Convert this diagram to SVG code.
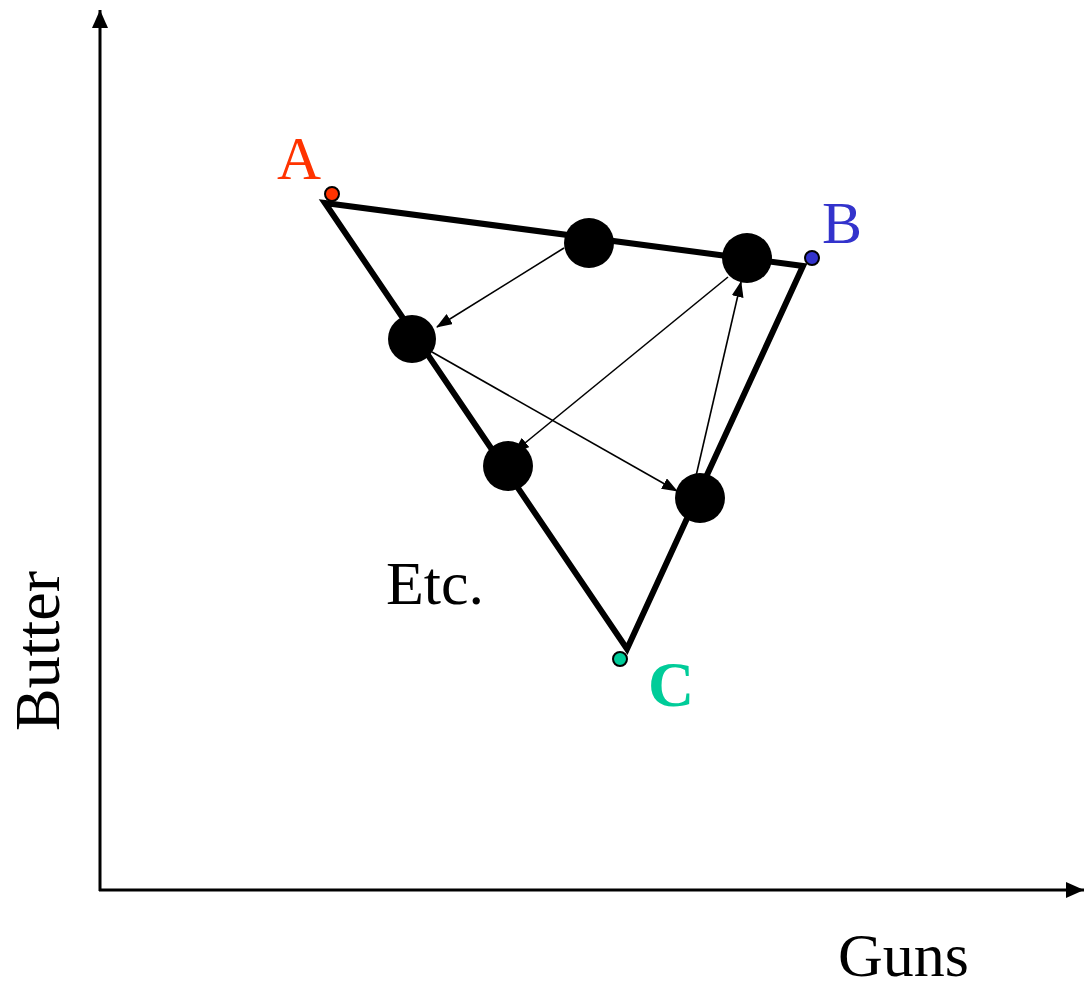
<svg xmlns="http://www.w3.org/2000/svg" width="1084" height="985" viewBox="0 0 1084 985">
<style>
.lbl{font-family:"Liberation Serif","Times New Roman",serif;}
.edge{fill:none;stroke:#000;stroke-width:6;stroke-linejoin:miter;}
.thin{fill:none;stroke:#000;stroke-width:1.6;marker-end:url(#ah);}
.dot{fill:#000;}
</style>
<defs>
<marker id="ah" markerUnits="userSpaceOnUse" markerWidth="16" markerHeight="12" refX="15" refY="6" orient="auto">
<path d="M0,0 L16,6 L0,12 z" fill="#000"/>
</marker>
<marker id="axh" markerUnits="userSpaceOnUse" markerWidth="18" markerHeight="16" refX="18" refY="8" orient="auto">
<path d="M0,0 L18,8 L0,16 z" fill="#000"/>
</marker>
</defs>
<rect width="1084" height="985" fill="#fff"/>
<g id="axes">
<line x1="100" y1="891" x2="100" y2="10" stroke="#000" stroke-width="3" marker-end="url(#axh)"/>
<line x1="99" y1="890" x2="1084" y2="890" stroke="#000" stroke-width="3" marker-end="url(#axh)"/>
</g>
<g id="triangle">
<path class="edge" d="M325,203 L803,266 L627,649 Z"/>
</g>
<g id="connectors">
<line class="thin" x1="564" y1="248" x2="437" y2="327"/>
<line class="thin" x1="432" y1="352" x2="677" y2="491"/>
<line class="thin" x1="728" y1="277" x2="514" y2="452"/>
<line class="thin" x1="696" y1="476" x2="741" y2="282"/>
</g>
<g id="n1"><circle class="dot" cx="589" cy="243" r="25"/></g>
<g id="n2"><circle class="dot" cx="747" cy="258" r="25"/></g>
<g id="n3"><circle class="dot" cx="412" cy="339" r="24"/></g>
<g id="n4"><circle class="dot" cx="508" cy="466" r="25"/></g>
<g id="n5"><circle class="dot" cx="700" cy="498" r="25"/></g>
<g id="A">
<circle cx="332" cy="194" r="7" fill="#FF3300" stroke="#000" stroke-width="2"/>
<text class="lbl" x="277" y="179" font-size="61" fill="#FF3300">A</text>
</g>
<g id="B">
<circle cx="812" cy="258" r="7" fill="#3333CC" stroke="#000" stroke-width="2"/>
<text class="lbl" x="822" y="243" font-size="60" fill="#3333CC">B</text>
</g>
<g id="C">
<circle cx="620" cy="659" r="7" fill="#00CC99" stroke="#000" stroke-width="2"/>
<text class="lbl" x="648" y="706" font-size="64" font-weight="bold" fill="#00CC99">C</text>
</g>
<g id="labels">
<text class="lbl" x="386" y="604" font-size="62" fill="#000">Etc.</text>
<text class="lbl" x="838" y="976" font-size="62" fill="#000">Guns</text>
<text class="lbl" transform="translate(59,651) rotate(-90)" text-anchor="middle" font-size="64" fill="#000">Butter</text>
</g>
</svg>
